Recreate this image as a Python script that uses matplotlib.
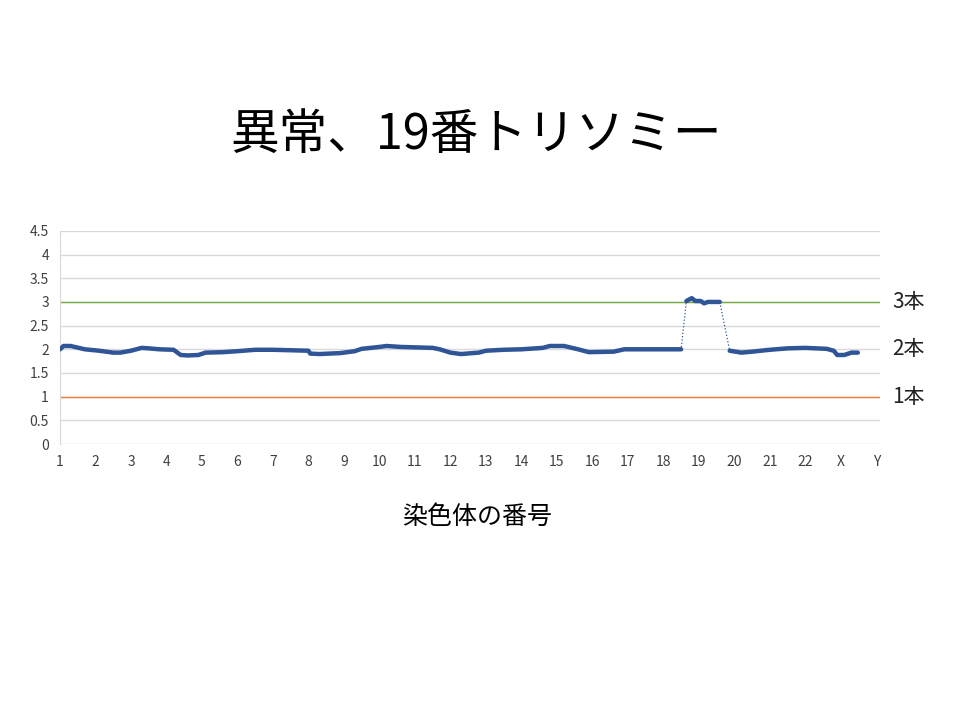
import matplotlib
matplotlib.use("Agg")
import matplotlib.pyplot as plt

plt.rcParams["font.family"] = ["Noto Sans CJK JP", "DejaVu Sans"]

tick_labels = [str(i) for i in range(1, 23)] + ["X", "Y"]
# copy number segments (x in chromosome-index units, y = estimated copies)
seg_a_x = [1.0, 1.1, 1.3, 1.7, 2.1, 2.5, 2.7, 3.0, 3.3, 3.5, 3.8, 4.2, 4.4, 4.6, 4.9, 5.1,
           5.6, 6.0, 6.5, 7.0, 7.5, 8.0, 8.05, 8.3, 8.9, 9.3, 9.5, 10.0, 10.2, 10.6, 11.5,
           11.7, 12.0, 12.3, 12.8, 13.0, 13.5, 14.0, 14.6, 14.8, 15.2, 15.6, 15.9, 16.6,
           16.9, 17.5, 18.5]
seg_a_y = [2.0, 2.07, 2.07, 2.0, 1.97, 1.93, 1.93, 1.97, 2.03, 2.02, 2.0, 1.99, 1.88, 1.87,
           1.88, 1.93, 1.94, 1.96, 1.99, 1.99, 1.98, 1.97, 1.91, 1.90, 1.92, 1.96, 2.01, 2.05,
           2.07, 2.05, 2.03, 2.0, 1.93, 1.90, 1.93, 1.97, 1.99, 2.0, 2.03, 2.07, 2.07, 2.0,
           1.94, 1.95, 2.0, 2.0, 2.0]
seg_b_x = [18.65, 18.8, 18.9, 19.05, 19.15, 19.25, 19.59]
seg_b_y = [3.02, 3.08, 3.02, 3.02, 2.97, 3.0, 3.0]
seg_c_x = [19.87, 20.2, 20.5, 21.0, 21.5, 22.0, 22.6, 22.8, 22.9, 23.1, 23.3, 23.48]
seg_c_y = [1.97, 1.93, 1.95, 1.99, 2.02, 2.03, 2.01, 1.97, 1.88, 1.88, 1.93, 1.93]
ref_levels = [3, 2, 1]
ref_labels = ["3本", "2本", "1本"]

fig = plt.figure(figsize=(9.6, 7.2), dpi=100)
ax = fig.add_axes([0.0625, 0.3833, 0.854, 0.296])

line_color = "#2F5597"
all_x = seg_a_x + seg_b_x + seg_c_x
all_y = seg_a_y + seg_b_y + seg_c_y
ax.plot(all_x, all_y, color=line_color, lw=0.9, ls=":", zorder=3)
for sx, sy in [(seg_a_x, seg_a_y), (seg_b_x, seg_b_y), (seg_c_x, seg_c_y)]:
    ax.plot(sx, sy, color=line_color, lw=3.2, solid_capstyle="round", zorder=4)

ax.axhline(3, color="#70AD47", lw=1, zorder=2)
ax.axhline(1, color="#ED7D31", lw=1, zorder=2)

ax.set_ylim(0, 4.5)
ax.set_yticks([0, 0.5, 1, 1.5, 2, 2.5, 3, 3.5, 4, 4.5])
ax.set_yticklabels(["0", "0.5", "1", "1.5", "2", "2.5", "3", "3.5", "4", "4.5"])
ax.set_xlim(1, 24.1)
ax.set_xticks(range(1, 25))
ax.set_xticklabels(tick_labels)
ax.grid(axis="y", color="#D9D9D9", lw=1, zorder=1)
ax.tick_params(length=0, labelsize=10, colors="#404040", pad=8)
for s in ["top", "right", "bottom"]:
    ax.spines[s].set_visible(False)
ax.spines["left"].set_color("#D9D9D9")

for lvl, lab in zip(ref_levels, ref_labels):
    ax.text(1.015, lvl, lab, transform=ax.get_yaxis_transform(), va="center",
            ha="left", fontsize=15, color="#222222")

fig.text(0.496, 0.812, "異常、19番トリソミー", ha="center", va="center", fontsize=35)
fig.text(0.497, 0.282, "染色体の番号", ha="center", va="center", fontsize=18)

fig.savefig("out.png", dpi=100)
